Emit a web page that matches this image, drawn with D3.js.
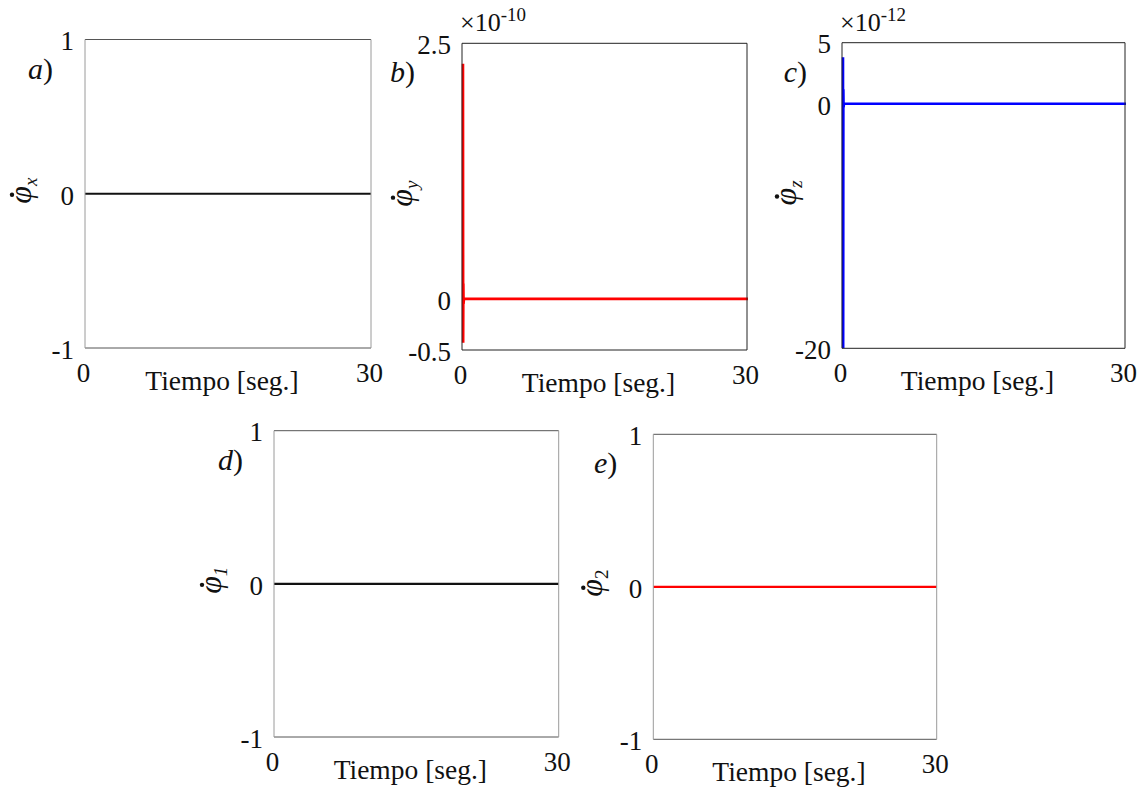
<!DOCTYPE html>
<html>
<head>
<meta charset="utf-8">
<script src="https://cdn.jsdelivr.net/npm/d3@7"></script>
<style>
  html, body { margin: 0; padding: 0; background: #fff; }
  svg { display: block; }
  text { font-family: "Liberation Serif", "Times New Roman", serif; fill: #111; }
</style>
</head>
<body>
<svg id="fig" width="1147" height="787"></svg>
<script>
// Angular velocities of the five joints over 30 s of simulation
const panelLetters = ["a", "b", "c", "d", "e"];
const subscripts   = ["x", "y", "z", "1", "2"];
const xTicks = [0, 30];
const xLabel = "Tiempo [seg.]";

const timeA = [0, 30];
const rateA = [0, 0];

const timeB = [0, 0.02, 0.04, 0.06, 0.1, 30];
const rateB = [2.3, -0.43, 0.15, -0.05, 0, 0];     // ×10^-10

const timeC = [0, 0.02, 0.04, 0.06, 0.1, 30];
const rateC = [3.8, -20, 1.2, -0.3, 0, 0];          // ×10^-12

const timeD = [0, 30];
const rateD = [0, 0];

const timeE = [0, 30];
const rateE = [0, 0];

const yDomains = [[-1, 1], [-0.5, 2.5], [-20, 5], [-1, 1], [-1, 1]];
const yTickValues = [[-1, 0, 1], [-0.5, 0, 2.5], [-20, 0, 5], [-1, 0, 1], [-1, 0, 1]];
const yTickText = [["-1", "0", "1"], ["-0.5", "0", "2.5"], ["-20", "0", "5"], ["-1", "0", "1"], ["-1", "0", "1"]];
const exponents = [null, "-10", "-12", null, null];
const lineColors = ["#111", "#ff0000", "#0000ff", "#111", "#ff0000"];

// layout of each axes box: left, top, right, bottom
const boxes = [
  [85, 39.5, 371, 348],
  [462, 43.3, 747, 350],
  [842, 42.7, 1125, 348.3],
  [274, 430.7, 558.7, 737],
  [653.3, 434.3, 936.7, 739.3]
];
const frameStyle = ["soft", "hard", "hard", "soft", "soft"];
const letterOffset = [32, 47, 35, 31, 36];
const ylabelOffset = [63, 59, 55, 62, 60];

const series = [
  { t: timeA, v: rateA },
  { t: timeB, v: rateB },
  { t: timeC, v: rateC },
  { t: timeD, v: rateD },
  { t: timeE, v: rateE }
];

const svg = d3.select("#fig");

series.forEach((s, i) => {
  const [L, T, R, B] = boxes[i];
  const x = d3.scaleLinear().domain([0, 30]).range([L, R]);
  const y = d3.scaleLinear().domain(yDomains[i]).range([B, T]);
  const g = svg.append("g");

  const clipId = "clip" + i;
  svg.append("clipPath").attr("id", clipId)
    .append("rect").attr("x", L - 3).attr("y", T).attr("width", R - L + 6).attr("height", B - T);

  // data line
  const line = d3.line().x((d, k) => x(s.t[k]) + (i === 1 || i === 2 ? 1 : 0)).y(d => y(d));
  g.append("path")
    .datum(s.v)
    .attr("clip-path", `url(#${clipId})`)
    .attr("d", line)
    .attr("fill", "none")
    .attr("stroke", lineColors[i])
    .attr("stroke-width", i === 1 || i === 2 ? 2.6 : 2.2);

  // frame
  const soft = frameStyle[i] === "soft";
  const hv = soft ? "#555" : "#222";
  const vv = soft ? "#9a9a9a" : "#222";
  g.append("line").attr("x1", L).attr("x2", R).attr("y1", T).attr("y2", T).attr("stroke", hv).attr("stroke-width", 1);
  g.append("line").attr("x1", L).attr("x2", R).attr("y1", B).attr("y2", B).attr("stroke", hv).attr("stroke-width", 1);
  g.append("line").attr("x1", L).attr("x2", L).attr("y1", T).attr("y2", B).attr("stroke", vv).attr("stroke-width", 1);
  g.append("line").attr("x1", R).attr("x2", R).attr("y1", T).attr("y2", B).attr("stroke", vv).attr("stroke-width", 1);

  // y tick labels
  const yAxis = d3.axisLeft(y)
    .tickValues(yTickValues[i])
    .tickFormat((d, k) => yTickText[i][k])
    .tickSize(0)
    .tickPadding(11);
  const ya = g.append("g").attr("transform", `translate(${L},0)`).call(yAxis);
  ya.select(".domain").remove();
  ya.selectAll("text")
    .attr("font-family", "Liberation Serif, Times New Roman, serif")
    .attr("font-size", 27).attr("fill", "#111").attr("dy", "0.38em");

  // x tick labels
  const xAxis = d3.axisBottom(x).tickValues(xTicks).tickFormat(d3.format("d")).tickSize(0).tickPadding(0);
  const xa = g.append("g").attr("transform", `translate(0,${B})`).call(xAxis);
  xa.select(".domain").remove();
  xa.selectAll("text")
    .attr("font-family", "Liberation Serif, Times New Roman, serif")
    .attr("font-size", 27).attr("fill", "#111")
    .attr("dy", null).attr("y", 34).attr("dx", -2);

  // x label
  g.append("text")
    .attr("x", (L + R) / 2 - 6).attr("y", B + 42)
    .attr("text-anchor", "middle")
    .attr("font-size", 27.5)
    .text(xLabel);

  // panel letter
  const lt = g.append("text")
    .attr("x", L - letterOffset[i]).attr("y", T + 39)
    .attr("text-anchor", "end")
    .attr("font-size", 30);
  lt.append("tspan").attr("font-style", "italic").text(panelLetters[i]);
  lt.append("tspan").text(")");

  // y label: dotted phi with subscript, rotated
  const yl = g.append("g")
    .attr("transform", `translate(${L - ylabelOffset[i]},${(T + B) / 2 + 10}) rotate(-90)`);
  const yt = yl.append("text").attr("x", 0).attr("y", 9).attr("font-size", 32);
  yt.append("tspan").attr("font-style", "italic").text("φ");
  yt.append("tspan")
    .attr("font-size", 19).attr("dy", 6)
    .attr("font-style", subscripts[i] === "2" ? "normal" : "italic")
    .text(subscripts[i]);
  yl.append("circle").attr("cx", 9).attr("cy", -10).attr("r", 2.2).attr("fill", "#111");

  // exponent multiplier
  if (exponents[i]) {
    const et = g.append("text").attr("x", L - 2).attr("y", T - 12).attr("font-size", 26);
    et.append("tspan").text("×10");
    et.append("tspan").attr("font-size", 19).attr("dy", -10).text(exponents[i]);
  }
});
</script>
</body>
</html>
